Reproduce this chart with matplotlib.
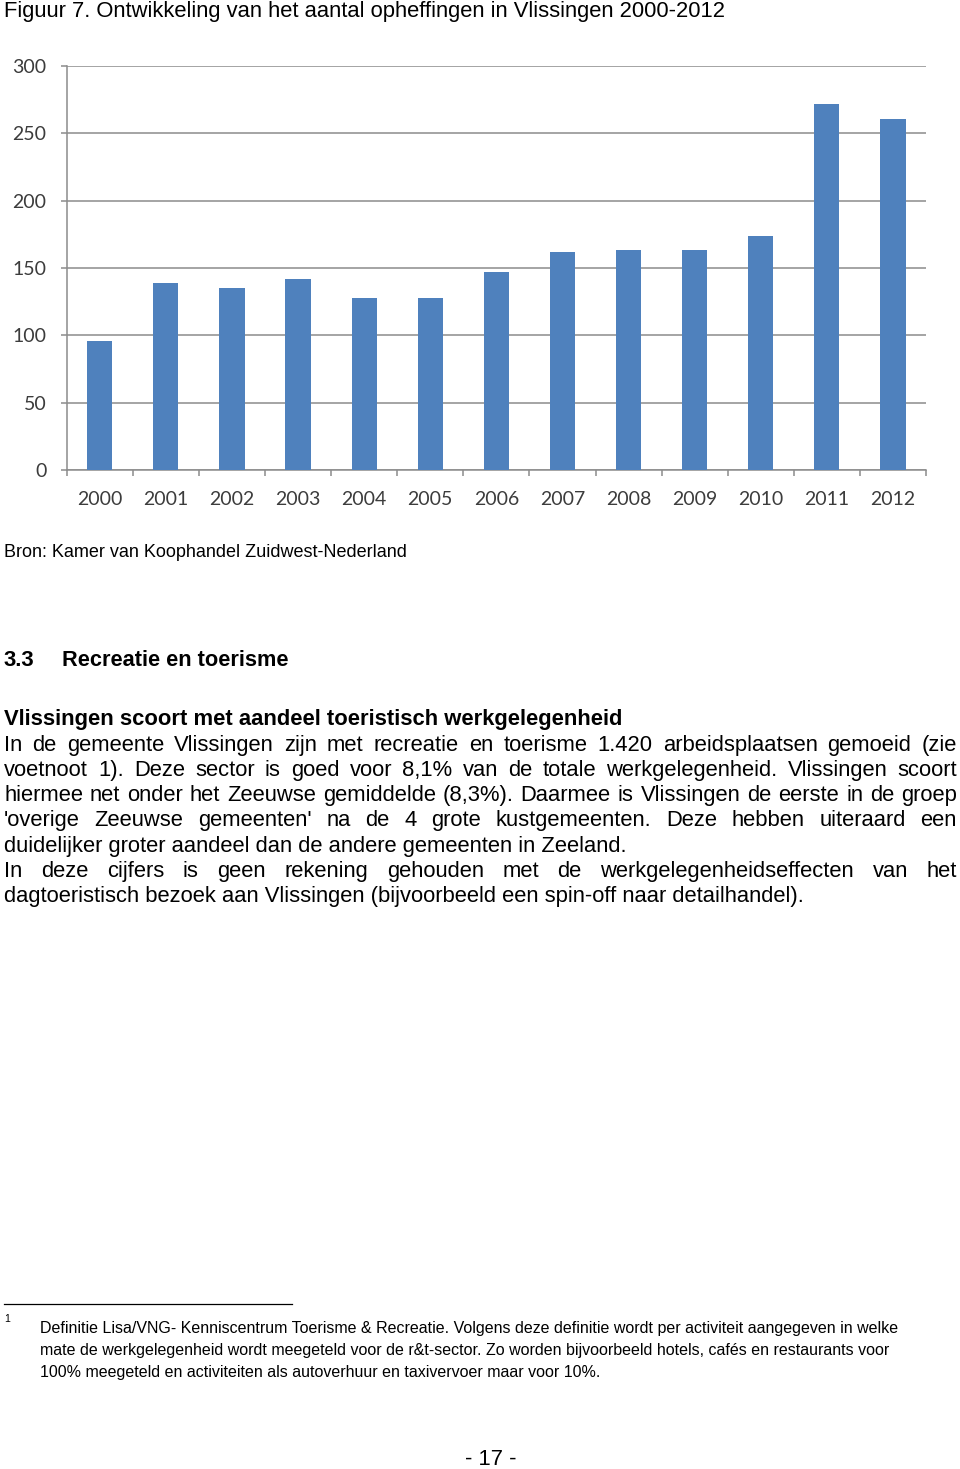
import matplotlib
matplotlib.use('Agg')
import matplotlib.pyplot as plt
from matplotlib.font_manager import FontProperties
import numpy as np

# ---------------- data ----------------
years = ['2000', '2001', '2002', '2003', '2004', '2005', '2006',
         '2007', '2008', '2009', '2010', '2011', '2012']
opheffingen = [96, 139, 135, 142, 128, 128, 147, 162, 163, 163, 174, 272, 261]
yticks = [0, 50, 100, 150, 200, 250, 300]

title = "Figuur 7. Ontwikkeling van het aantal opheffingen in Vlissingen 2000-2012"
source = "Bron: Kamer van Koophandel Zuidwest-Nederland"
sec_num = "3.3"
sec_title = "Recreatie en toerisme"
heading = "Vlissingen scoort met aandeel toeristisch werkgelegenheid"
body_lines = [
    ("In de gemeente Vlissingen zijn met recreatie en toerisme 1.420 arbeidsplaatsen gemoeid (zie", True),
    ("voetnoot 1). Deze sector is goed voor 8,1% van de totale werkgelegenheid. Vlissingen scoort", True),
    ("hiermee net onder het Zeeuwse gemiddelde (8,3%). Daarmee is Vlissingen de eerste in de groep", True),
    ("'overige Zeeuwse gemeenten' na de 4 grote kustgemeenten. Deze hebben uiteraard een", True),
    ("duidelijker groter aandeel dan de andere gemeenten in Zeeland.", False),
    ("In deze cijfers is geen rekening gehouden met de werkgelegenheidseffecten van het", True),
    ("dagtoeristisch bezoek aan Vlissingen (bijvoorbeeld een spin-off naar detailhandel).", False),
]
footnote_mark = "1"
footnote_lines = [
    "Definitie Lisa/VNG- Kenniscentrum Toerisme & Recreatie. Volgens deze definitie wordt per activiteit aangegeven in welke",
    "mate de werkgelegenheid wordt meegeteld voor de r&t-sector. Zo worden bijvoorbeeld hotels, cafés en restaurants voor",
    "100% meegeteld en activiteiten als autoverhuur en taxivervoer maar voor 10%.",
]
page_no = "- 17 -"

# ---------------- figure ----------------
W, H = 960, 1469
fig = plt.figure(figsize=(W / 100, H / 100), dpi=100)
fig.patch.set_facecolor('white')

ov = fig.add_axes([0, 0, 1, 1])
ov.set_xlim(0, W)
ov.set_ylim(H, 0)
ov.axis('off')

renderer = fig.canvas.get_renderer()
FAM = ['Liberation Sans', 'DejaVu Sans']


def fp(size, weight='normal'):
    return FontProperties(family=FAM, size=size, weight=weight)


def text_width(s, prop):
    t = ov.text(0, 0, s, fontproperties=prop)
    w = t.get_window_extent(renderer).width
    t.remove()
    return w


def fit_size(s, target, weight='normal'):
    base = 20.0
    w = text_width(s, fp(base, weight))
    return base * target / w


def put(s, x, y, prop, ha='left'):
    ov.text(x, y, s, fontproperties=prop, ha=ha, va='baseline', color='black')


def justify(s, x0, x1, y, prop):
    words = s.split(' ')
    ws = [text_width(w, prop) for w in words]
    gap = (x1 - x0 - sum(ws)) / (len(words) - 1)
    x = x0
    for w, wd in zip(words, ws):
        put(w, x, y, prop)
        x += wd + gap


# title
put(title, 4, 17, fp(fit_size(title, 724)))

# ---------------- chart ----------------
ax_l, ax_r, ax_b, ax_t = 66.7, 926, 470, 66
ax = fig.add_axes([ax_l / W, 1 - ax_b / H, (ax_r - ax_l) / W, (ax_b - ax_t) / H])
x = np.arange(len(years))
ax.bar(x, opheffingen, width=0.38, color='#4F81BD', zorder=3)
ax.set_xlim(-0.5, len(years) - 0.5)
ax.set_ylim(0, 300)
ax.set_yticks(yticks)
ax.set_xticks(x)
ax.set_xticklabels(years)
ax.set_xticks(np.arange(-0.5, len(years), 1), minor=True)
grid_c = '#8c8c8c'
ax.yaxis.grid(True, color=grid_c, linewidth=1.1, zorder=0)
ax.set_axisbelow(True)
for s in ['top', 'right']:
    ax.spines[s].set_visible(False)
for s in ['left', 'bottom']:
    ax.spines[s].set_color(grid_c)
    ax.spines[s].set_linewidth(1.1)
tick_font = ['Lato', 'DejaVu Sans']
ax.tick_params(axis='y', length=4.5, color=grid_c, width=1.1, pad=10,
               labelsize=14, labelcolor='#3c3c3c')
ax.tick_params(axis='x', which='major', length=0, pad=15,
               labelsize=14, labelcolor='#3c3c3c')
ax.tick_params(axis='x', which='minor', length=4, color=grid_c, width=1.1)
for lab in ax.get_xticklabels() + ax.get_yticklabels():
    lab.set_family(tick_font)

# ---------------- text blocks ----------------
put(source, 4, 557, fp(fit_size(source, 402)))

bold_size = fit_size(heading, 619, 'bold')
put(sec_num, 4, 666, fp(bold_size, 'bold'))
put(sec_title, 62, 666, fp(fit_size(sec_title, 226, 'bold'), 'bold'))
put(heading, 4, 725, fp(bold_size, 'bold'))

body_size = fit_size(body_lines[-1][0], 804)
body_fp = fp(body_size)
y0, dy = 750.5, 25.3
for i, (line, just) in enumerate(body_lines):
    y = y0 + i * dy
    if just:
        justify(line, 4, 957, y, body_fp)
    else:
        put(line, 4, y, body_fp)

# footnote
ov.plot([4, 292], [1304, 1304], color='black', linewidth=0.9)
foot_size = fit_size(footnote_lines[-1], 561)
foot_fp = fp(foot_size)
put(footnote_mark, 4, 1322, fp(foot_size * 0.65))
fy0, fdy = 1332.5, 22.5
for i, line in enumerate(footnote_lines):
    put(line, 40, fy0 + i * fdy, foot_fp)

put(page_no, 491, 1465, body_fp, ha='center')

fig.savefig('out.png', dpi=100, facecolor='white')
